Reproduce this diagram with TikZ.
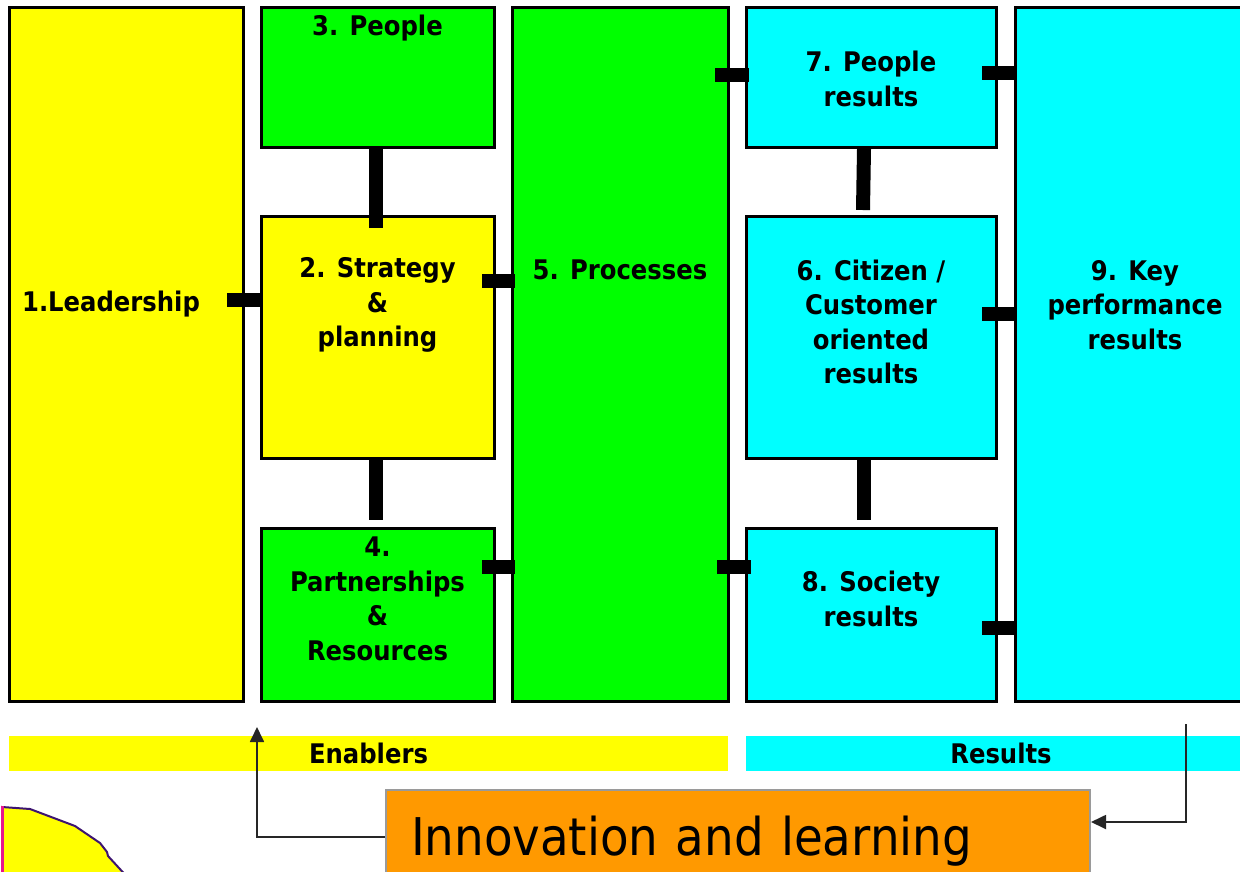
\documentclass[tikz,border=0pt]{standalone}
\usepackage{fontspec}
\setmainfont{DejaVu Sans}
\newfontfamily\lblfont{DejaVu Sans Condensed}
\usetikzlibrary{positioning,arrows.meta,calc}
\definecolor{cyel}{HTML}{FFFF00}
\definecolor{cgrn}{HTML}{00FF00}
\definecolor{ccya}{HTML}{00FFFF}
\definecolor{corg}{HTML}{FF9900}
\definecolor{cgry}{HTML}{9A9A9A}
\definecolor{cind}{HTML}{3D1470}
\definecolor{cmag}{HTML}{E8158C}

\begin{document}
\begin{tikzpicture}[
  x=1pt, y=-1pt,
  box/.style={draw, line width=3pt, outer sep=0pt, inner sep=0pt, anchor=north west},
  enb/.style={box, fill=cyel},
  egr/.style={box, fill=cgrn},
  res/.style={box, fill=ccya},
  lbl/.style={font=\lblfont\bfseries\fontsize{27}{34.5}\selectfont, align=center, inner sep=0pt},
  band/.style={outer sep=0pt, inner sep=0pt, anchor=north west, minimum height=35pt,
               font=\lblfont\bfseries\fontsize{27}{30}\selectfont},
  bar/.style={line width=14pt},
  fb/.style={-{Triangle[length=15pt,width=14pt]}, line width=1.8pt, draw=black!85},
]
\path[use as bounding box, fill=white] (0,0) rectangle (1240,871);

% ---- enablers ----
\node[enb, minimum width=234pt, minimum height=694pt] (lead) at (9,7) {};
\node[egr, right=18pt of lead.north east, anchor=north west, minimum width=233pt, minimum height=140pt] (people) {};
\node[enb, below=69pt of people.south west, anchor=north west, minimum width=233pt, minimum height=242pt] (strat) {};
\node[egr, below=70pt of strat.south west, anchor=north west, minimum width=233pt, minimum height=173pt] (partn) {};
\node[egr, right=18pt of people.north east, anchor=north west, minimum width=216pt, minimum height=694pt] (proc) {};

% ---- results ----
\node[res, right=18pt of proc.north east, anchor=north west, minimum width=250pt, minimum height=140pt] (presu) {};
\node[res, below=69pt of presu.south west, anchor=north west, minimum width=250pt, minimum height=242pt] (citiz) {};
\node[res, below=70pt of citiz.south west, anchor=north west, minimum width=250pt, minimum height=173pt] (socie) {};
\node[res, right=19pt of presu.north east, anchor=north west, minimum width=240pt, minimum height=694pt] (kpr) {};

% ---- box labels ----
\node[lbl] (leadtxt)   at ($(lead.north)+(-15,297)$)  {1.Leadership};
\node[lbl] (peopletxt) at ($(people.north)+(0,21)$)   {3. People};
\node[lbl] (strattxt)  at ($(strat.north)+(0,89)$)    {2. Strategy\\\&\\planning};
\node[lbl] (partntxt)  at ($(partn.north)+(0,71)$)    {4.\\Partnerships\\\&\\Resources};
\node[lbl] (proctxt)   at ($(proc.north)+(0,263)$)    {5. Processes};
\node[lbl] (presutxt)  at ($(presu.north)+(0,72)$)    {7. People\\results};
\node[lbl] (citiztxt)  at ($(citiz.north)+(0,106)$)   {6. Citizen /\\Customer\\oriented\\results};
\node[lbl] (societxt)  at ($(socie.north)+(0,71)$)    {8. Society\\results};
\node[lbl] (kprtxt)    at ($(kpr.north)+(0,298)$)     {9. Key\\performance\\results};

% ---- links ----
\draw[bar] ($(lead.north east)+(-16,293)$) -- ($(strat.north west)+(0,84)$);
\draw[bar] ($(people.south)+(-2,0)$) -- ($(strat.north)+(-2,12)$);
\draw[bar] ($(strat.north east)+(-12,65)$) -- ($(proc.north west)+(3,274)$);
\draw[bar] ($(strat.south)+(-2,0)$) -- ($(partn.north)+(-2,-8)$);
\draw[bar] ($(partn.north east)+(-12,39)$) -- ($(proc.north west)+(3,560)$);
\draw[bar] ($(proc.north east)+(-13,68)$) -- ($(presu.north west)+(3,68)$);
\draw[bar] ($(proc.north east)+(-11,560)$) -- ($(socie.north west)+(5,39)$);
\draw[bar] ($(presu.south)+(-7,2)$) -- ($(citiz.north)+(-8,-6)$);
\draw[bar] ($(citiz.south)+(-7,0)$) -- ($(socie.north)+(-7,-8)$);
\draw[bar] ($(presu.north east)+(-14,66)$) -- ($(kpr.north west)+(0,66)$);
\draw[bar] ($(citiz.north east)+(-14,98)$) -- ($(kpr.north west)+(0,307)$);
\draw[bar] ($(socie.north east)+(-14,100)$) -- ($(kpr.north west)+(0,621)$);

% ---- bands ----
\node[band, fill=cyel, minimum width=719pt] (enab) at (9,736) {Enablers};
\node[band, fill=ccya, right=18pt of enab.north east, anchor=north west, minimum width=510pt] (resu) {Results};

% ---- innovation and learning ----
\node[draw=cgry, line width=2pt, fill=corg, anchor=north west, inner xsep=25pt, inner ysep=0pt,
      text width=654pt, align=left, minimum height=102pt,
      font=\lblfont\fontsize{52}{56}\selectfont] (learn) at (385,789) {Innovation and learning};
\draw[fb] ($(learn.north west)+(0,48)$) -| ($(partn.south west)+(-4,26)$);
\draw[fb] ($(kpr.south west)+(171,23)$) |- ($(learn.north east)+(0,33)$);

% ---- corner shape ----
\draw[fill=cyel, draw=cind, line width=2pt]
  (2,807) -- (30,809) -- (75,826) -- (100,843) -- (107,852) -- (108,856) -- (130,880) -- (2,880) -- cycle;
\draw[cmag, line width=2.4pt] (2.5,806) -- (2.5,880);
\end{tikzpicture}
\end{document}
